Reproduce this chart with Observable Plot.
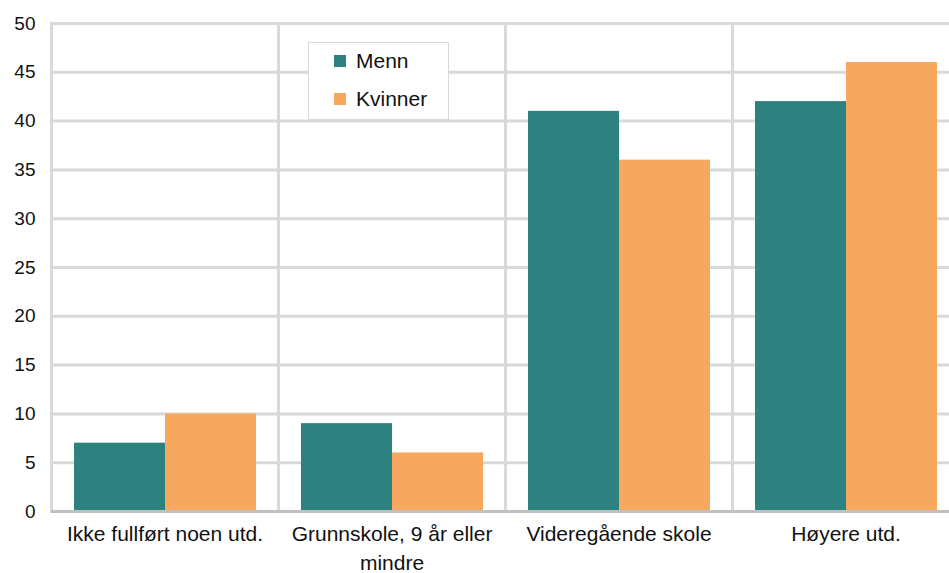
<!DOCTYPE html>
<html>
<head>
<meta charset="utf-8">
<script src="https://cdn.jsdelivr.net/npm/d3@7"></script>
<script src="https://cdn.jsdelivr.net/npm/@observablehq/plot@0.6"></script>
<style>
  html, body { margin: 0; padding: 0; background: #fff; overflow: hidden; }
  #wrap { position: relative; width: 949px; height: 573px; font-family: "Liberation Sans", Arial, sans-serif; }
  #legend { position: absolute; left: 308px; top: 42px; width: 141px; height: 78px; background: #fff; border: 1px solid #d9d9d9; box-sizing: border-box; }
  .li { position: absolute; left: 25px; display: flex; align-items: center; font-size: 21px; color: #111; }
  .sw { width: 12px; height: 12px; margin-right: 10px; }
</style>
</head>
<body>
<div id="wrap"></div>
<script>
const categories = ["Ikke fullført noen utd.", "Grunnskole, 9 år eller mindre", "Videregående skole", "Høyere utd."];
const tickLabels = ["Ikke fullført noen utd.", "Grunnskole, 9 år eller\nmindre", "Videregående skole", "Høyere utd."];
const series = ["Menn", "Kvinner"];
const menn = [7, 9, 41, 42];
const kvinner = [10, 6, 36, 46];
const yTicks = [0, 5, 10, 15, 20, 25, 30, 35, 40, 45, 50];
const colors = ["#2d8280", "#f6a95e"];

const data = [];
categories.forEach((c, i) => {
  data.push({cat: c, series: series[0], value: menn[i]});
  data.push({cat: c, series: series[1], value: kvinner[i]});
});

const chart = Plot.plot({
  width: 949,
  height: 573,
  marginLeft: 50,
  marginRight: -11,
  marginTop: 23,
  marginBottom: 62,
  style: {fontFamily: "'Liberation Sans', Arial, sans-serif", color: "#111", background: "#fff"},
  fx: {domain: categories, padding: 0, label: null},
  x: {domain: series, paddingInner: 0, paddingOuter: 0.235, axis: null},
  y: {domain: [0, 50], label: null},
  color: {domain: series, range: colors},
  marks: [
    Plot.gridY(yTicks, {stroke: "#d9d9d9", strokeWidth: 3, strokeOpacity: 1}),
    Plot.frame({stroke: "#d9d9d9", strokeWidth: 3}),
    Plot.barY(data, {fx: "cat", x: "series", y: "value", fill: "series"}),
    Plot.ruleY([0], {stroke: "#c0c0c0", strokeWidth: 3}),
    Plot.axisY(yTicks, {tickSize: 0, tickPadding: 16, fontSize: 19, label: null}),
    Plot.axisFx({anchor: "bottom", tickSize: 0, tickPadding: 9, fontSize: 21, lineHeight: 1.38, label: null,
      tickFormat: (d) => tickLabels[categories.indexOf(d)]})
  ]
});

const wrap = document.getElementById("wrap");
wrap.appendChild(chart);

const legend = document.createElement("div");
legend.id = "legend";
series.forEach((s, i) => {
  const item = document.createElement("div");
  item.className = "li";
  item.style.top = (i === 0 ? 6 : 44) + "px";
  const sw = document.createElement("span");
  sw.className = "sw";
  sw.style.background = colors[i];
  const t = document.createElement("span");
  t.textContent = s;
  item.appendChild(sw);
  item.appendChild(t);
  legend.appendChild(item);
});
wrap.appendChild(legend);
</script>
</body>
</html>
